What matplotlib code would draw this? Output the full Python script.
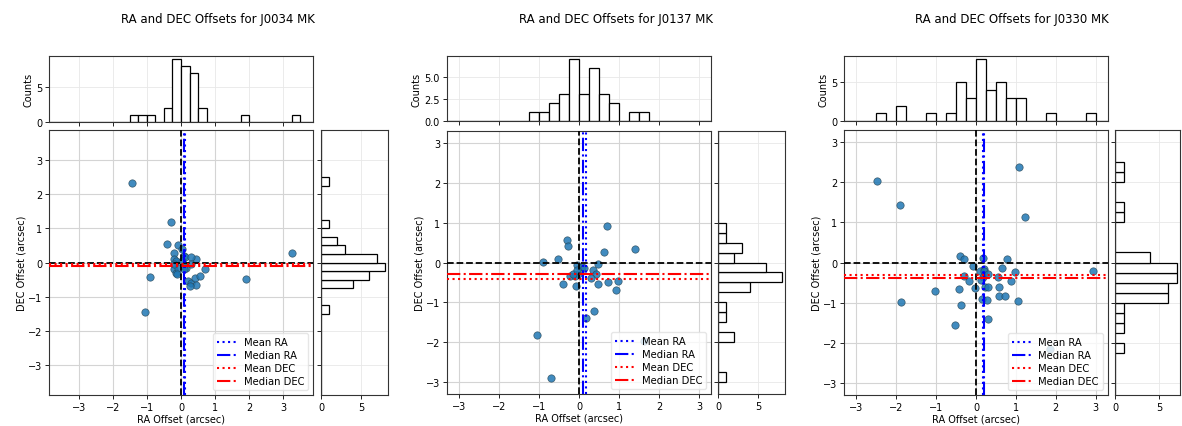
import numpy as np
import matplotlib
matplotlib.use("Agg")
import matplotlib.pyplot as plt

# ---------------- data ----------------
names = ["J0034 MK", "J0137 MK", "J0330 MK"]

ra_j0034 = [-1.45, -1.05, -0.90, -0.30, -0.40, 3.27, 1.92,
            -0.10, -0.22, -0.20, -0.15, -0.22, -0.15, -0.10, -0.20, -0.12,
            0.03, 0.08, 0.12, 0.03, 0.08, 0.15, 0.20, 0.10,
            0.45, 0.28, 0.28, 0.40, 0.30, 0.45, 0.27,
            0.70, 0.55]
dec_j0034 = [2.33, -1.45, -0.43, 1.20, 0.55, 0.27, -0.47,
             0.52, 0.28, 0.10, 0.05, -0.20, -0.30, -0.15, -0.05, -0.35,
             0.40, 0.20, 0.15, 0.05, -0.10, -0.15, -0.55, -0.20,
             0.10, 0.15, -0.60, -0.45, -0.05, -0.65, -0.70,
             -0.18, -0.40]

ra_j0137 = [-1.06, -0.70, -0.89, -0.52, -0.31, -0.27, -0.39, -0.22, -0.07,
            -0.04, -0.02, 0.07, 0.13, 0.17, 0.37, 0.36, 0.42, 0.48, 0.48,
            0.62, 0.70, 0.73, 0.92, 0.98, 1.40, 1.62,
            -0.10, -0.15, -0.05, 0.30]
dec_j0137 = [-1.82, -2.90, 0.01, 0.10, 0.56, 0.41, -0.54, -0.34, -0.60,
             -0.07, -0.29, -0.11, -0.15, -1.40, -1.22, -0.19, -0.29, -0.05, -0.55,
             0.27, 0.92, -0.48, -0.69, -0.46, 0.33, -1.97,
             -0.35, -0.30, -0.20, -0.38]

ra_j0330 = [-2.48, -1.90, -1.89, -1.04, -0.53,
            -0.40, -0.29, -0.31, -0.42, -0.38,
            -0.18, -0.07, -0.02,
            0.18, 0.19, 0.17, 0.12, 0.15, 0.23, 0.10, 0.20,
            0.29, 0.31, 0.27, 0.30,
            0.54, 0.58, 0.65, 0.58, 0.72,
            0.77, 0.88, 0.99,
            1.06, 1.08, 1.22,
            1.85, 2.93]
dec_j0330 = [2.04, 1.43, -0.99, -0.70, -1.56,
             0.17, 0.08, -0.33, -0.67, -1.06,
             -0.45, -0.08, -0.64,
             0.11, -0.17, -0.35, -0.43, -0.92, -0.60, -0.22, -0.20,
             -0.62, -1.42, -0.93, -0.28,
             -0.35, -0.60, -0.13, -0.83, -0.83,
             0.08, -0.47, -0.24,
             -0.97, 2.38, 1.13,
             -2.15, -0.22]

datasets = [(ra_j0034, dec_j0034), (ra_j0137, dec_j0137), (ra_j0330, dec_j0330)]

# ---------------- layout ----------------
W, H = 1182, 427
limits = [3.88, 3.30, 3.31]
main_px = [(49, 131, 313, 396), (447, 132, 711, 395), (844, 131, 1108, 396)]
top_px = [(49, 57, 313, 123), (447, 57, 711, 122), (844, 57, 1108, 122)]
right_px = [(321, 131, 388, 396), (718, 132, 785, 395), (1115, 131, 1180, 396)]
title_x = [218, 616, 1012]


def rect(p):
    x0, y0, x1, y1 = p
    return [x0 / W, 1 - y1 / H, (x1 - x0) / W, (y1 - y0) / H]


plt.rcParams['font.family'] = ['DejaVu Sans']
fig = plt.figure(figsize=(W / 100, H / 100), dpi=100)
fig.patch.set_facecolor('white')

tick_fs = 7
lab_fs = 7
bin_w = 0.25

for i, (name, (ra, dec)) in enumerate(zip(names, datasets)):
    ra = np.array(ra)
    dec = np.array(dec)
    lim = limits[i]
    bins = np.arange(-4.0, 4.0 + bin_w / 2, bin_w)

    ax = fig.add_axes(rect(main_px[i]))
    axt = fig.add_axes(rect(top_px[i]), sharex=ax)
    axr = fig.add_axes(rect(right_px[i]), sharey=ax)

    ax.grid(True, color='#d4d4d4', lw=0.8, zorder=0)
    ax.set_axisbelow(True)
    ax.scatter(ra, dec, s=28, color='#1f77b4', alpha=0.85,
               edgecolors='#2b4a5a', linewidths=0.5, zorder=3)
    ax.axvline(0, color='black', ls='--', lw=1.3, zorder=4)
    ax.axhline(0, color='black', ls='--', lw=1.3, zorder=4)
    ax.axvline(np.mean(ra), color='blue', ls=':', lw=1.5, label='Mean RA', zorder=5)
    ax.axvline(np.median(ra), color='blue', ls='-.', lw=1.5, label='Median RA', zorder=5)
    ax.axhline(np.mean(dec), color='red', ls=':', lw=1.5, label='Mean DEC', zorder=5)
    ax.axhline(np.median(dec), color='red', ls='-.', lw=1.5, label='Median DEC', zorder=5)
    ax.set_xlim(-lim, lim)
    ax.set_ylim(-lim, lim)
    ax.set_xticks([-3, -2, -1, 0, 1, 2, 3])
    ax.set_yticks([-3, -2, -1, 0, 1, 2, 3])
    ax.tick_params(labelsize=tick_fs, length=3, width=0.6, pad=2)
    ax.set_xlabel('RA Offset (arcsec)', fontsize=lab_fs, labelpad=1)
    ax.set_ylabel('DEC Offset (arcsec)', fontsize=lab_fs, labelpad=1)
    ax.legend(loc='lower right', fontsize=7.2, frameon=True, framealpha=0.8,
              edgecolor='#e0e0e0', handlelength=2.0, borderpad=0.4,
              labelspacing=0.3, handletextpad=0.7)

    # top histogram (RA)
    axt.grid(True, color='#e8e8e8', lw=0.6)
    axt.set_axisbelow(True)
    axt.hist(ra, bins=bins, facecolor='white', edgecolor='black', linewidth=0.9)
    axt.set_ylabel('Counts', fontsize=lab_fs, labelpad=2)
    axt.tick_params(labelsize=tick_fs, length=3, width=0.6, pad=2, labelbottom=False)

    # right histogram (DEC)
    axr.grid(True, color='#e8e8e8', lw=0.6)
    axr.set_axisbelow(True)
    axr.hist(dec, bins=bins, orientation='horizontal', facecolor='white',
             edgecolor='black', linewidth=0.9)
    axr.set_xticks([0, 5])
    axr.tick_params(labelsize=tick_fs, length=3, width=0.6, pad=2, labelleft=False)

    ax.set_xlim(-lim, lim)
    ax.set_ylim(-lim, lim)

    for a in (ax, axt, axr):
        for sp in a.spines.values():
            sp.set_linewidth(0.8)
            sp.set_color('#333333')

    fig.text(title_x[i] / W, 1 - 20 / H, f'RA and DEC Offsets for {name}',
             ha='center', va='center', fontsize=8.5)

fig.savefig('out.png', dpi=100, facecolor='white')
